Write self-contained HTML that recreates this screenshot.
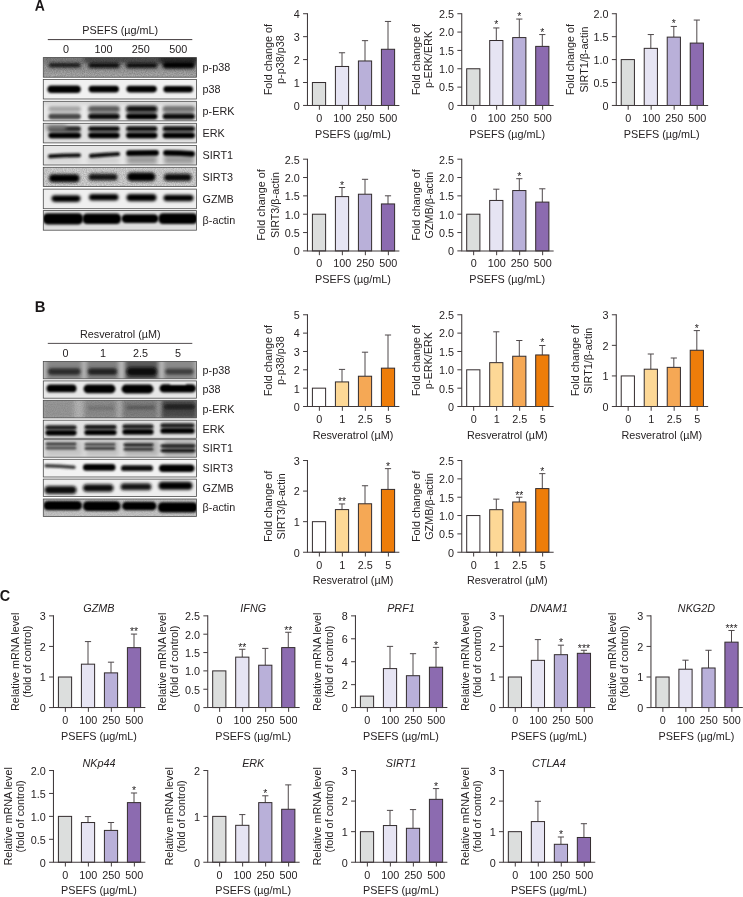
<!DOCTYPE html>
<html lang="en"><head><meta charset="utf-8"><title>Figure</title>
<style>
html,body{margin:0;padding:0;background:#fff;}
body{width:743px;height:897px;overflow:hidden;}
svg{display:block;font-family:"Liberation Sans",sans-serif;font-size:10.8px;fill:#262223;}
</style></head><body>
<svg width="743" height="897" viewBox="0 0 743 897">
<defs>
<filter id="b1" filterUnits="userSpaceOnUse" x="30" y="40" width="180" height="500"><feGaussianBlur stdDeviation="1.05"/></filter>
<filter id="b15" filterUnits="userSpaceOnUse" x="30" y="40" width="180" height="500"><feGaussianBlur stdDeviation="1.5"/></filter>
<filter id="b2" filterUnits="userSpaceOnUse" x="30" y="40" width="180" height="500"><feGaussianBlur stdDeviation="2.2"/></filter>
<filter id="noise" x="0" y="0" width="100%" height="100%"><feTurbulence type="fractalNoise" baseFrequency="0.9" numOctaves="2" seed="3"/><feColorMatrix type="matrix" values="0 0 0 0 0  0 0 0 0 0  0 0 0 0 0  1.6 0 0 0 -0.45"/></filter>
</defs>
<rect width="743" height="897" fill="#ffffff"/>
<text x="120.2" y="34.3" text-anchor="middle">PSEFS (µg/mL)</text>
<path d="M47.8 39.6H192.3" stroke="#403a3c" stroke-width="1"/>
<text x="65.9" y="52.7" text-anchor="middle">0</text>
<text x="103.6" y="52.7" text-anchor="middle">100</text>
<text x="140.8" y="52.7" text-anchor="middle">250</text>
<text x="178.2" y="52.7" text-anchor="middle">500</text>
<clipPath id="c1"><rect x="43.3" y="57.6" width="153.2" height="19.6"/></clipPath>
<g clip-path="url(#c1)"><rect x="43.3" y="57.6" width="153.2" height="19.6" fill="#9a9a9a"/>
<rect x="43" y="56" width="154.00" height="7.50" fill="#7c7c7c" filter="url(#b2)"/>
<rect x="84" y="55" width="113.00" height="8.00" fill="#4c4c4c" filter="url(#b2)"/>
<rect x="160" y="55" width="37.00" height="8.00" fill="#2c2c2c" filter="url(#b2)"/>
<rect x="43" y="73" width="154.00" height="7.00" fill="#adadad" filter="url(#b2)"/>
<rect x="48.5" y="63.00" width="32.30" height="4.4" rx="2.20" fill="#141414" filter="url(#b15)"/>
<rect x="88.4" y="62.70" width="31.20" height="5.4" rx="2.70" fill="#0a0a0a" filter="url(#b15)"/>
<rect x="126.2" y="62.70" width="31.10" height="5.4" rx="2.70" fill="#0a0a0a" filter="url(#b15)"/>
<rect x="162.8" y="61.90" width="32.00" height="6.6" rx="3.30" fill="#060606" filter="url(#b15)"/>
<rect x="43.3" y="57.6" width="153.2" height="19.6" filter="url(#noise)" opacity="0.22"/>
</g>
<rect x="43.3" y="57.6" width="153.2" height="19.6" fill="none" stroke="#4a4a4a" stroke-width="0.8"/>
<clipPath id="c2"><rect x="43.3" y="79.4" width="153.2" height="19.6"/></clipPath>
<g clip-path="url(#c2)"><rect x="43.3" y="79.4" width="153.2" height="19.6" fill="#f1f1f1"/>
<rect x="47.4" y="85.50" width="33.40" height="7.6" rx="3.80" fill="#030303" filter="url(#b1)"/>
<rect x="88.6" y="85.70" width="30.40" height="6.8" rx="3.40" fill="#030303" filter="url(#b1)"/>
<rect x="126.4" y="85.80" width="30.40" height="6.6" rx="3.30" fill="#030303" filter="url(#b1)"/>
<rect x="163.4" y="86.10" width="29.60" height="6.4" rx="3.20" fill="#030303" filter="url(#b1)"/>
</g>
<rect x="43.3" y="79.4" width="153.2" height="19.6" fill="none" stroke="#4a4a4a" stroke-width="0.8"/>
<clipPath id="c3"><rect x="43.3" y="101.3" width="153.2" height="19.6"/></clipPath>
<g clip-path="url(#c3)"><rect x="43.3" y="101.3" width="153.2" height="19.6" fill="#e9e9e9"/>
<rect x="43" y="100" width="154.00" height="4.00" fill="#cfcfcf" filter="url(#b2)"/>
<rect x="49.5" y="107" width="30.30" height="11.00" fill="#d2d2d2" filter="url(#b2)"/>
<rect x="89.4" y="107" width="29.20" height="11.00" fill="#a4a4a4" filter="url(#b2)"/>
<rect x="127.2" y="107" width="29.10" height="11.00" fill="#8a8a8a" filter="url(#b2)"/>
<rect x="163.8" y="107" width="30.00" height="11.00" fill="#a8a8a8" filter="url(#b2)"/>
<rect x="48.5" y="106.60" width="32.30" height="4.6" rx="2.30" fill="#a2a2a2" filter="url(#b15)"/>
<rect x="48.5" y="113.80" width="32.30" height="5.4" rx="2.70" fill="#4a4a4a" filter="url(#b1)"/>
<rect x="88.4" y="106.30" width="31.20" height="5.2" rx="2.60" fill="#565656" filter="url(#b15)"/>
<rect x="88.4" y="113.80" width="31.20" height="5.4" rx="2.70" fill="#070707" filter="url(#b1)"/>
<rect x="126.2" y="106.00" width="31.10" height="5.8" rx="2.90" fill="#0b0b0b" filter="url(#b15)"/>
<rect x="126.2" y="113.80" width="31.10" height="5.4" rx="2.70" fill="#050505" filter="url(#b1)"/>
<rect x="162.8" y="106.30" width="32.00" height="5.2" rx="2.60" fill="#707070" filter="url(#b15)"/>
<rect x="162.8" y="113.80" width="32.00" height="5.4" rx="2.70" fill="#0b0b0b" filter="url(#b1)"/>
</g>
<rect x="43.3" y="101.3" width="153.2" height="19.6" fill="none" stroke="#4a4a4a" stroke-width="0.8"/>
<clipPath id="c4"><rect x="43.3" y="123.3" width="153.2" height="19.6"/></clipPath>
<g clip-path="url(#c4)"><rect x="43.3" y="123.3" width="153.2" height="19.6" fill="#e2e2e2"/>
<rect x="49.5" y="127" width="30.30" height="10.00" fill="#8e8e8e" filter="url(#b2)"/>
<rect x="89.4" y="127" width="29.20" height="10.00" fill="#8e8e8e" filter="url(#b2)"/>
<rect x="127.2" y="127" width="29.10" height="10.00" fill="#8e8e8e" filter="url(#b2)"/>
<rect x="163.8" y="127" width="30.00" height="10.00" fill="#8e8e8e" filter="url(#b2)"/>
<rect x="48.5" y="126.50" width="32.30" height="4.4" rx="2.20" fill="#262626" filter="url(#b1)"/>
<rect x="48.5" y="132.70" width="32.30" height="5.6" rx="2.80" fill="#050505" filter="url(#b1)"/>
<rect x="88.4" y="126.50" width="31.20" height="4.4" rx="2.20" fill="#0e0e0e" filter="url(#b1)"/>
<rect x="88.4" y="132.70" width="31.20" height="5.6" rx="2.80" fill="#050505" filter="url(#b1)"/>
<rect x="126.2" y="126.50" width="31.10" height="4.4" rx="2.20" fill="#0b0b0b" filter="url(#b1)"/>
<rect x="126.2" y="132.70" width="31.10" height="5.6" rx="2.80" fill="#050505" filter="url(#b1)"/>
<rect x="162.8" y="126.50" width="32.00" height="4.4" rx="2.20" fill="#0b0b0b" filter="url(#b1)"/>
<rect x="162.8" y="132.70" width="32.00" height="5.6" rx="2.80" fill="#050505" filter="url(#b1)"/>
<rect x="46" y="125.0" width="20.00" height="5.00" fill="#808080" filter="url(#b2)"/>
</g>
<rect x="43.3" y="123.3" width="153.2" height="19.6" fill="none" stroke="#4a4a4a" stroke-width="0.8"/>
<clipPath id="c5"><rect x="43.3" y="145.4" width="153.2" height="19.6"/></clipPath>
<g clip-path="url(#c5)"><rect x="43.3" y="145.4" width="153.2" height="19.6" fill="#e6e6e6"/>
<rect x="127" y="155.5" width="30.00" height="8.50" fill="#9a9a9a" filter="url(#b2)"/>
<rect x="164" y="155.5" width="30.00" height="8.50" fill="#9a9a9a" filter="url(#b2)"/>
<rect x="88" y="158" width="31.00" height="5.00" fill="#cccccc" filter="url(#b2)"/>
<rect x="48" y="158" width="32.00" height="5.00" fill="#d6d6d6" filter="url(#b2)"/>
<path d="M50 156.3 L64 155.4 L79 155.3" stroke="#101010" stroke-width="4.0" stroke-linecap="round" fill="none" filter="url(#b1)"/>
<path d="M91 155.8 L104 154.8 L118 154.0" stroke="#0e0e0e" stroke-width="4.2" stroke-linecap="round" fill="none" filter="url(#b1)"/>
<path d="M129 153.2 L156 152.8" stroke="#060606" stroke-width="5.8" stroke-linecap="round" fill="none" filter="url(#b1)"/>
<path d="M166 152.8 L180 153.2 L192 153.8" stroke="#060606" stroke-width="5.8" stroke-linecap="round" fill="none" filter="url(#b1)"/>
</g>
<rect x="43.3" y="145.4" width="153.2" height="19.6" fill="none" stroke="#4a4a4a" stroke-width="0.8"/>
<clipPath id="c6"><rect x="43.3" y="167.3" width="153.2" height="19.2"/></clipPath>
<g clip-path="url(#c6)"><rect x="43.3" y="167.3" width="153.2" height="19.2" fill="#d2d2d2"/>
<rect x="49.0" y="174.20" width="30.50" height="8.0" rx="4.00" fill="#060606" filter="url(#b15)"/>
<rect x="88.5" y="173.80" width="29.00" height="6.8" rx="3.40" fill="#161616" filter="url(#b15)"/>
<rect x="127.0" y="172.40" width="28.50" height="8.8" rx="4.40" fill="#050505" filter="url(#b15)"/>
<rect x="164.0" y="173.80" width="27.50" height="7.2" rx="3.60" fill="#0b0b0b" filter="url(#b15)"/>
<rect x="43.3" y="167.3" width="153.2" height="19.2" filter="url(#noise)" opacity="0.2"/>
</g>
<rect x="43.3" y="167.3" width="153.2" height="19.2" fill="none" stroke="#4a4a4a" stroke-width="0.8"/>
<clipPath id="c7"><rect x="43.3" y="189.1" width="153.2" height="19.6"/></clipPath>
<g clip-path="url(#c7)"><rect x="43.3" y="189.1" width="153.2" height="19.6" fill="#efefef"/>
<rect x="51.5" y="195.30" width="29.00" height="6.6" rx="3.30" fill="#060606" filter="url(#b15)"/>
<rect x="89.0" y="194.10" width="29.50" height="6.4" rx="3.20" fill="#060606" filter="url(#b15)"/>
<rect x="126.5" y="194.00" width="30.00" height="7.2" rx="3.60" fill="#060606" filter="url(#b15)"/>
<rect x="163.5" y="194.70" width="30.00" height="6.6" rx="3.30" fill="#060606" filter="url(#b15)"/>
</g>
<rect x="43.3" y="189.1" width="153.2" height="19.6" fill="none" stroke="#4a4a4a" stroke-width="0.8"/>
<clipPath id="c8"><rect x="43.3" y="210.6" width="153.2" height="19.6"/></clipPath>
<g clip-path="url(#c8)"><rect x="43.3" y="210.6" width="153.2" height="19.6" fill="#dedede"/>
<rect x="43.0" y="213.20" width="40.00" height="11.2" rx="4.50" fill="#030303" filter="url(#b1)"/>
<rect x="82.5" y="213.50" width="38.50" height="10.6" rx="4.50" fill="#030303" filter="url(#b1)"/>
<rect x="121.5" y="214.20" width="37.00" height="8.8" rx="4.40" fill="#030303" filter="url(#b1)"/>
<rect x="158.5" y="213.20" width="39.00" height="10.8" rx="4.50" fill="#030303" filter="url(#b1)"/>
</g>
<rect x="43.3" y="210.6" width="153.2" height="19.6" fill="none" stroke="#4a4a4a" stroke-width="0.8"/>
<text x="202.6" y="71.2">p-p38</text>
<text x="202.6" y="93.0">p38</text>
<text x="202.6" y="114.9">p-ERK</text>
<text x="202.6" y="136.9">ERK</text>
<text x="202.6" y="159.0">SIRT1</text>
<text x="202.6" y="180.9">SIRT3</text>
<text x="202.6" y="202.7">GZMB</text>
<text x="202.6" y="224.2">β-actin</text>
<text x="120.3" y="338.2" text-anchor="middle">Resveratrol (µM)</text>
<path d="M47.8 343.4H192.3" stroke="#403a3c" stroke-width="0.9"/>
<text x="65.5" y="356.8" text-anchor="middle">0</text>
<text x="103.1" y="356.8" text-anchor="middle">1</text>
<text x="140.5" y="356.8" text-anchor="middle">2.5</text>
<text x="178.0" y="356.8" text-anchor="middle">5</text>
<clipPath id="c9"><rect x="43.3" y="361.5" width="153.2" height="17.3"/></clipPath>
<g clip-path="url(#c9)"><rect x="43.3" y="361.5" width="153.2" height="17.3" fill="#bdbdbd"/>
<rect x="46.5" y="358" width="35.50" height="24.00" fill="#868686" filter="url(#b2)"/>
<rect x="48.0" y="368.20" width="32.50" height="6.8" rx="3.40" fill="#2a2a2a" filter="url(#b15)"/>
<rect x="86.3" y="358" width="32.30" height="24.00" fill="#808080" filter="url(#b2)"/>
<rect x="87.8" y="368.20" width="29.30" height="6.8" rx="3.40" fill="#242424" filter="url(#b15)"/>
<rect x="125.0" y="358" width="33.40" height="24.00" fill="#5a5a5a" filter="url(#b2)"/>
<rect x="126.5" y="367.30" width="30.40" height="8.6" rx="4.30" fill="#0b0b0b" filter="url(#b15)"/>
<rect x="163.8" y="358" width="31.20" height="24.00" fill="#8a8a8a" filter="url(#b2)"/>
<rect x="165.3" y="368.70" width="28.20" height="5.8" rx="2.90" fill="#3a3a3a" filter="url(#b15)"/>
</g>
<rect x="43.3" y="361.5" width="153.2" height="17.3" fill="none" stroke="#4a4a4a" stroke-width="0.8"/>
<clipPath id="c10"><rect x="43.3" y="380.9" width="153.2" height="17.3"/></clipPath>
<g clip-path="url(#c10)"><rect x="43.3" y="380.9" width="153.2" height="17.3" fill="#e8e8e8"/>
<rect x="46.5" y="384.50" width="30.00" height="7.8" rx="3.90" fill="#040404" filter="url(#b1)"/>
<rect x="83.5" y="384.40" width="32.00" height="8.8" rx="4.40" fill="#040404" filter="url(#b1)"/>
<rect x="121.5" y="384.60" width="32.00" height="8.8" rx="4.40" fill="#040404" filter="url(#b1)"/>
<rect x="159.5" y="384.20" width="36.50" height="8.4" rx="4.20" fill="#040404" filter="url(#b1)"/>
<rect x="170" y="380" width="16.00" height="4.50" fill="#e8e8e8" filter="url(#b1)"/>
</g>
<rect x="43.3" y="380.9" width="153.2" height="17.3" fill="none" stroke="#4a4a4a" stroke-width="0.8"/>
<clipPath id="c11"><rect x="43.3" y="400.3" width="153.2" height="17.6"/></clipPath>
<g clip-path="url(#c11)"><rect x="43.3" y="400.3" width="153.2" height="17.6" fill="#b3b3b3"/>
<rect x="43" y="399" width="31.00" height="20.00" fill="#979797" filter="url(#b2)"/>
<rect x="84" y="399" width="33.00" height="20.00" fill="#8b8b8b" filter="url(#b2)"/>
<rect x="122" y="399" width="36.00" height="20.00" fill="#7e7e7e" filter="url(#b2)"/>
<rect x="161" y="399" width="36.00" height="20.00" fill="#4c4c4c" filter="url(#b2)"/>
<rect x="164" y="404.60" width="31.00" height="4.6" rx="2.30" fill="#1a1a1a" filter="url(#b15)"/>
<rect x="126" y="405.80" width="29.00" height="3.4" rx="1.70" fill="#585858" filter="url(#b15)"/>
<rect x="88" y="406.50" width="26.00" height="3.0" rx="1.50" fill="#707070" filter="url(#b15)"/>
<rect x="43.3" y="400.3" width="153.2" height="17.6" filter="url(#noise)" opacity="0.1"/>
</g>
<rect x="43.3" y="400.3" width="153.2" height="17.6" fill="none" stroke="#4a4a4a" stroke-width="0.8"/>
<clipPath id="c12"><rect x="43.3" y="420.2" width="153.2" height="18.1"/></clipPath>
<g clip-path="url(#c12)"><rect x="43.3" y="420.2" width="153.2" height="18.1" fill="#e4e4e4"/>
<rect x="46.5" y="426.3" width="29.00" height="8.00" fill="#8c8c8c" filter="url(#b2)"/>
<rect x="85.5" y="426" width="30.00" height="8.00" fill="#8c8c8c" filter="url(#b2)"/>
<rect x="123.5" y="425.4" width="29.00" height="8.00" fill="#8c8c8c" filter="url(#b2)"/>
<rect x="161.5" y="424.4" width="32.00" height="8.00" fill="#8c8c8c" filter="url(#b2)"/>
<rect x="45.5" y="425.40" width="31.00" height="3.8" rx="1.90" fill="#141414" filter="url(#b1)"/>
<rect x="45.5" y="430.20" width="31.00" height="5.2" rx="2.60" fill="#040404" filter="url(#b1)"/>
<rect x="84.5" y="425.10" width="32.00" height="3.8" rx="1.90" fill="#141414" filter="url(#b1)"/>
<rect x="84.5" y="429.90" width="32.00" height="5.2" rx="2.60" fill="#040404" filter="url(#b1)"/>
<rect x="122.5" y="424.50" width="31.00" height="3.8" rx="1.90" fill="#141414" filter="url(#b1)"/>
<rect x="122.5" y="429.30" width="31.00" height="5.2" rx="2.60" fill="#040404" filter="url(#b1)"/>
<rect x="160.5" y="423.50" width="34.00" height="3.8" rx="1.90" fill="#141414" filter="url(#b1)"/>
<rect x="160.5" y="428.30" width="34.00" height="5.2" rx="2.60" fill="#040404" filter="url(#b1)"/>
</g>
<rect x="43.3" y="420.2" width="153.2" height="18.1" fill="none" stroke="#4a4a4a" stroke-width="0.8"/>
<clipPath id="c13"><rect x="43.3" y="439.7" width="153.2" height="17.5"/></clipPath>
<g clip-path="url(#c13)"><rect x="43.3" y="439.7" width="153.2" height="17.5" fill="#dcdcdc"/>
<rect x="46.5" y="441" width="35.50" height="15.00" fill="#c4c4c4" filter="url(#b2)"/>
<rect x="86.3" y="441" width="32.30" height="15.00" fill="#c0c0c0" filter="url(#b2)"/>
<rect x="125.0" y="441" width="33.40" height="15.00" fill="#b4b4b4" filter="url(#b2)"/>
<rect x="163.8" y="441" width="31.20" height="15.00" fill="#a2a2a2" filter="url(#b2)"/>
<rect x="45.5" y="442.60" width="31.00" height="2.8" rx="1.40" fill="#383838" filter="url(#b1)"/>
<rect x="45.5" y="446.40" width="31.00" height="3.2" rx="1.60" fill="#484848" filter="url(#b1)"/>
<rect x="84.5" y="442.90" width="31.00" height="2.8" rx="1.40" fill="#444444" filter="url(#b1)"/>
<rect x="84.5" y="446.80" width="31.00" height="3.2" rx="1.60" fill="#3c3c3c" filter="url(#b1)"/>
<rect x="123.5" y="443.40" width="30.00" height="2.8" rx="1.40" fill="#101010" filter="url(#b1)"/>
<rect x="123.5" y="447.60" width="30.00" height="3.2" rx="1.60" fill="#363636" filter="url(#b1)"/>
<rect x="160.5" y="444.60" width="35.00" height="2.8" rx="1.40" fill="#0c0c0c" filter="url(#b1)"/>
<rect x="160.5" y="449.00" width="35.00" height="3.2" rx="1.60" fill="#0e0e0e" filter="url(#b1)"/>
</g>
<rect x="43.3" y="439.7" width="153.2" height="17.5" fill="none" stroke="#4a4a4a" stroke-width="0.8"/>
<clipPath id="c14"><rect x="43.3" y="459.3" width="153.2" height="17.7"/></clipPath>
<g clip-path="url(#c14)"><rect x="43.3" y="459.3" width="153.2" height="17.7" fill="#f2f2f2"/>
<path d="M46 465.8 L60 466.3 L74 467.2" stroke="#3a3a3a" stroke-width="3.4" stroke-linecap="round" fill="none" filter="url(#b1)"/>
<rect x="83.0" y="464.10" width="32.50" height="6.6" rx="3.30" fill="#050505" filter="url(#b1)"/>
<rect x="121.0" y="465.30" width="32.00" height="5.8" rx="2.90" fill="#080808" filter="url(#b1)"/>
<rect x="159.0" y="464.40" width="35.50" height="7.6" rx="3.80" fill="#040404" filter="url(#b1)"/>
</g>
<rect x="43.3" y="459.3" width="153.2" height="17.7" fill="none" stroke="#4a4a4a" stroke-width="0.8"/>
<clipPath id="c15"><rect x="43.3" y="479.1" width="153.2" height="17.3"/></clipPath>
<g clip-path="url(#c15)"><rect x="43.3" y="479.1" width="153.2" height="17.3" fill="#eeeeee"/>
<rect x="44.5" y="486.00" width="32.00" height="8.0" rx="4.00" fill="#0b0b0b" filter="url(#b15)"/>
<rect x="83.0" y="484.30" width="30.50" height="7.4" rx="3.70" fill="#0b0b0b" filter="url(#b15)"/>
<rect x="120.5" y="483.30" width="31.00" height="7.0" rx="3.50" fill="#181818" filter="url(#b15)"/>
<rect x="158.5" y="481.80" width="34.00" height="8.0" rx="4.00" fill="#050505" filter="url(#b15)"/>
</g>
<rect x="43.3" y="479.1" width="153.2" height="17.3" fill="none" stroke="#4a4a4a" stroke-width="0.8"/>
<clipPath id="c16"><rect x="43.3" y="499.0" width="153.2" height="17.5"/></clipPath>
<g clip-path="url(#c16)"><rect x="43.3" y="499.0" width="153.2" height="17.5" fill="#c4c4c4"/>
<rect x="43.5" y="500.90" width="38.50" height="9.4" rx="4.50" fill="#040404" filter="url(#b1)"/>
<rect x="83" y="501.30" width="37.50" height="9.8" rx="4.50" fill="#040404" filter="url(#b1)"/>
<rect x="122" y="501.70" width="34.50" height="8.6" rx="4.30" fill="#040404" filter="url(#b1)"/>
<rect x="158" y="502.30" width="39.50" height="10.2" rx="4.50" fill="#040404" filter="url(#b1)"/>
<rect x="43.3" y="499.0" width="153.2" height="17.5" filter="url(#noise)" opacity="0.1"/>
</g>
<rect x="43.3" y="499.0" width="153.2" height="17.5" fill="none" stroke="#4a4a4a" stroke-width="0.8"/>
<text x="202.6" y="373.9">p-p38</text>
<text x="202.6" y="393.3">p38</text>
<text x="202.6" y="412.7">p-ERK</text>
<text x="202.6" y="432.6">ERK</text>
<text x="202.6" y="452.1">SIRT1</text>
<text x="202.6" y="471.7">SIRT3</text>
<text x="202.6" y="491.5">GZMB</text>
<text x="202.6" y="511.4">β-actin</text>
<text transform="translate(34.8 10.7) rotate(0.03) scale(0.9 1)" font-size="15.5" font-weight="bold" fill="#1a1617">A</text>
<text transform="translate(34.7 312.0) rotate(0.03) scale(0.96 1)" font-size="15.5" font-weight="bold" fill="#1a1617">B</text>
<text transform="translate(-0.3 600.85) rotate(0.03) scale(0.93 1)" font-size="15.5" font-weight="bold" fill="#1a1617">C</text>
<rect x="312.41" y="82.52" width="13.2" height="22.93" fill="#dcdedd" stroke="#322b2d" stroke-width="1"/>
<path d="M319.36 105.45v4.3" stroke="#403a3c" stroke-width="1"/>
<text x="319.36" y="121.75" text-anchor="middle">0</text>
<path d="M342.01 66.47V52.75M338.91 52.75H345.11" stroke="#4e484a" stroke-width="1" fill="none"/>
<rect x="335.41" y="66.47" width="13.2" height="38.98" fill="#e6e4f3" stroke="#322b2d" stroke-width="1"/>
<path d="M342.36 105.45v4.3" stroke="#403a3c" stroke-width="1"/>
<text x="342.36" y="121.75" text-anchor="middle">100</text>
<path d="M365.01 60.97V40.65M361.91 40.65H368.11" stroke="#4e484a" stroke-width="1" fill="none"/>
<rect x="358.41" y="60.97" width="13.2" height="44.48" fill="#b9b0d9" stroke="#322b2d" stroke-width="1"/>
<path d="M365.36 105.45v4.3" stroke="#403a3c" stroke-width="1"/>
<text x="365.36" y="121.75" text-anchor="middle">250</text>
<path d="M388.01 49.27V21.45M384.91 21.45H391.11" stroke="#4e484a" stroke-width="1" fill="none"/>
<rect x="381.41" y="49.27" width="13.2" height="56.18" fill="#8c6bb0" stroke="#322b2d" stroke-width="1"/>
<path d="M388.36 105.45v4.3" stroke="#403a3c" stroke-width="1"/>
<text x="388.36" y="121.75" text-anchor="middle">500</text>
<path d="M307.46 13.23V105.45H399.36" stroke="#403a3c" stroke-width="1.05" fill="none"/>
<path d="M303.06 105.45H307.46" stroke="#403a3c" stroke-width="1"/>
<text x="299.76" y="109.80" text-anchor="end">0</text>
<path d="M303.06 82.52H307.46" stroke="#403a3c" stroke-width="1"/>
<text x="299.76" y="86.87" text-anchor="end">1</text>
<path d="M303.06 59.59H307.46" stroke="#403a3c" stroke-width="1"/>
<text x="299.76" y="63.94" text-anchor="end">2</text>
<path d="M303.06 36.66H307.46" stroke="#403a3c" stroke-width="1"/>
<text x="299.76" y="41.01" text-anchor="end">3</text>
<path d="M303.06 13.73H307.46" stroke="#403a3c" stroke-width="1"/>
<text x="299.76" y="18.08" text-anchor="end">4</text>
<text x="352.96" y="137.65" text-anchor="middle">PSEFS (µg/mL)</text>
<text transform="translate(271.91 59.59) rotate(-90)" text-anchor="middle">Fold change of</text>
<text transform="translate(284.41 59.59) rotate(-90)" text-anchor="middle">p-p38/p38</text>
<rect x="466.70" y="68.76" width="13.2" height="36.69" fill="#dcdedd" stroke="#322b2d" stroke-width="1"/>
<path d="M473.65 105.45v4.3" stroke="#403a3c" stroke-width="1"/>
<text x="473.65" y="121.75" text-anchor="middle">0</text>
<path d="M496.30 40.51V27.95M493.20 27.95H499.40" stroke="#4e484a" stroke-width="1" fill="none"/>
<rect x="489.70" y="40.51" width="13.2" height="64.94" fill="#e6e4f3" stroke="#322b2d" stroke-width="1"/>
<path d="M496.65 105.45v4.3" stroke="#403a3c" stroke-width="1"/>
<text x="496.65" y="121.75" text-anchor="middle">100</text>
<path d="M519.30 37.58V19.05M516.20 19.05H522.40" stroke="#4e484a" stroke-width="1" fill="none"/>
<rect x="512.70" y="37.58" width="13.2" height="67.87" fill="#b9b0d9" stroke="#322b2d" stroke-width="1"/>
<path d="M519.65 105.45v4.3" stroke="#403a3c" stroke-width="1"/>
<text x="519.65" y="121.75" text-anchor="middle">250</text>
<path d="M542.30 46.38V34.55M539.20 34.55H545.40" stroke="#4e484a" stroke-width="1" fill="none"/>
<rect x="535.70" y="46.38" width="13.2" height="59.07" fill="#8c6bb0" stroke="#322b2d" stroke-width="1"/>
<path d="M542.65 105.45v4.3" stroke="#403a3c" stroke-width="1"/>
<text x="542.65" y="121.75" text-anchor="middle">500</text>
<text x="496.30" y="28.25" text-anchor="middle" font-size="10.4" letter-spacing="0">*</text>
<text x="519.30" y="20.15" text-anchor="middle" font-size="10.4" letter-spacing="0">*</text>
<text x="542.30" y="35.95" text-anchor="middle" font-size="10.4" letter-spacing="0">*</text>
<path d="M461.75 13.23V105.45H553.65" stroke="#403a3c" stroke-width="1.05" fill="none"/>
<path d="M457.35 105.45H461.75" stroke="#403a3c" stroke-width="1"/>
<text x="454.05" y="109.80" text-anchor="end">0</text>
<path d="M457.35 87.11H461.75" stroke="#403a3c" stroke-width="1"/>
<text x="454.05" y="91.46" text-anchor="end">0.5</text>
<path d="M457.35 68.76H461.75" stroke="#403a3c" stroke-width="1"/>
<text x="454.05" y="73.11" text-anchor="end">1.0</text>
<path d="M457.35 50.42H461.75" stroke="#403a3c" stroke-width="1"/>
<text x="454.05" y="54.77" text-anchor="end">1.5</text>
<path d="M457.35 32.07H461.75" stroke="#403a3c" stroke-width="1"/>
<text x="454.05" y="36.42" text-anchor="end">2.0</text>
<path d="M457.35 13.73H461.75" stroke="#403a3c" stroke-width="1"/>
<text x="454.05" y="18.08" text-anchor="end">2.5</text>
<text x="507.25" y="137.65" text-anchor="middle">PSEFS (µg/mL)</text>
<text transform="translate(419.80 59.59) rotate(-90)" text-anchor="middle">Fold change of</text>
<text transform="translate(432.30 59.59) rotate(-90)" text-anchor="middle">p-ERK/ERK</text>
<rect x="621.22" y="59.59" width="13.2" height="45.86" fill="#dcdedd" stroke="#322b2d" stroke-width="1"/>
<path d="M628.17 105.45v4.3" stroke="#403a3c" stroke-width="1"/>
<text x="628.17" y="121.75" text-anchor="middle">0</text>
<path d="M650.82 48.35V34.55M647.72 34.55H653.92" stroke="#4e484a" stroke-width="1" fill="none"/>
<rect x="644.22" y="48.35" width="13.2" height="57.10" fill="#e6e4f3" stroke="#322b2d" stroke-width="1"/>
<path d="M651.17 105.45v4.3" stroke="#403a3c" stroke-width="1"/>
<text x="651.17" y="121.75" text-anchor="middle">100</text>
<path d="M673.82 37.12V26.45M670.72 26.45H676.92" stroke="#4e484a" stroke-width="1" fill="none"/>
<rect x="667.22" y="37.12" width="13.2" height="68.33" fill="#b9b0d9" stroke="#322b2d" stroke-width="1"/>
<path d="M674.17 105.45v4.3" stroke="#403a3c" stroke-width="1"/>
<text x="674.17" y="121.75" text-anchor="middle">250</text>
<path d="M696.82 43.08V20.05M693.72 20.05H699.92" stroke="#4e484a" stroke-width="1" fill="none"/>
<rect x="690.22" y="43.08" width="13.2" height="62.37" fill="#8c6bb0" stroke="#322b2d" stroke-width="1"/>
<path d="M697.17 105.45v4.3" stroke="#403a3c" stroke-width="1"/>
<text x="697.17" y="121.75" text-anchor="middle">500</text>
<text x="673.82" y="27.25" text-anchor="middle" font-size="10.4" letter-spacing="0">*</text>
<path d="M616.27 13.23V105.45H708.17" stroke="#403a3c" stroke-width="1.05" fill="none"/>
<path d="M611.87 105.45H616.27" stroke="#403a3c" stroke-width="1"/>
<text x="608.57" y="109.80" text-anchor="end">0</text>
<path d="M611.87 82.52H616.27" stroke="#403a3c" stroke-width="1"/>
<text x="608.57" y="86.87" text-anchor="end">0.5</text>
<path d="M611.87 59.59H616.27" stroke="#403a3c" stroke-width="1"/>
<text x="608.57" y="63.94" text-anchor="end">1.0</text>
<path d="M611.87 36.66H616.27" stroke="#403a3c" stroke-width="1"/>
<text x="608.57" y="41.01" text-anchor="end">1.5</text>
<path d="M611.87 13.73H616.27" stroke="#403a3c" stroke-width="1"/>
<text x="608.57" y="18.08" text-anchor="end">2.0</text>
<text x="661.77" y="137.65" text-anchor="middle">PSEFS (µg/mL)</text>
<text transform="translate(574.22 59.59) rotate(-90)" text-anchor="middle">Fold change of</text>
<text transform="translate(587.97 59.59) rotate(-90)" text-anchor="middle">SIRT1/β-actin</text>
<rect x="312.41" y="214.21" width="13.2" height="36.69" fill="#dcdedd" stroke="#322b2d" stroke-width="1"/>
<path d="M319.36 250.90v4.3" stroke="#403a3c" stroke-width="1"/>
<text x="319.36" y="267.20" text-anchor="middle">0</text>
<path d="M342.01 196.60V187.50M338.91 187.50H345.11" stroke="#4e484a" stroke-width="1" fill="none"/>
<rect x="335.41" y="196.60" width="13.2" height="54.30" fill="#e6e4f3" stroke="#322b2d" stroke-width="1"/>
<path d="M342.36 250.90v4.3" stroke="#403a3c" stroke-width="1"/>
<text x="342.36" y="267.20" text-anchor="middle">100</text>
<path d="M365.01 194.22V179.30M361.91 179.30H368.11" stroke="#4e484a" stroke-width="1" fill="none"/>
<rect x="358.41" y="194.22" width="13.2" height="56.68" fill="#b9b0d9" stroke="#322b2d" stroke-width="1"/>
<path d="M365.36 250.90v4.3" stroke="#403a3c" stroke-width="1"/>
<text x="365.36" y="267.20" text-anchor="middle">250</text>
<path d="M388.01 203.94V195.80M384.91 195.80H391.11" stroke="#4e484a" stroke-width="1" fill="none"/>
<rect x="381.41" y="203.94" width="13.2" height="46.96" fill="#8c6bb0" stroke="#322b2d" stroke-width="1"/>
<path d="M388.36 250.90v4.3" stroke="#403a3c" stroke-width="1"/>
<text x="388.36" y="267.20" text-anchor="middle">500</text>
<text x="342.01" y="188.50" text-anchor="middle" font-size="10.4" letter-spacing="0">*</text>
<path d="M307.46 158.68V250.90H399.36" stroke="#403a3c" stroke-width="1.05" fill="none"/>
<path d="M303.06 250.90H307.46" stroke="#403a3c" stroke-width="1"/>
<text x="299.76" y="255.25" text-anchor="end">0</text>
<path d="M303.06 232.56H307.46" stroke="#403a3c" stroke-width="1"/>
<text x="299.76" y="236.91" text-anchor="end">0.5</text>
<path d="M303.06 214.21H307.46" stroke="#403a3c" stroke-width="1"/>
<text x="299.76" y="218.56" text-anchor="end">1.0</text>
<path d="M303.06 195.87H307.46" stroke="#403a3c" stroke-width="1"/>
<text x="299.76" y="200.22" text-anchor="end">1.5</text>
<path d="M303.06 177.52H307.46" stroke="#403a3c" stroke-width="1"/>
<text x="299.76" y="181.87" text-anchor="end">2.0</text>
<path d="M303.06 159.18H307.46" stroke="#403a3c" stroke-width="1"/>
<text x="299.76" y="163.53" text-anchor="end">2.5</text>
<text x="352.96" y="283.10" text-anchor="middle">PSEFS (µg/mL)</text>
<text transform="translate(265.41 205.04) rotate(-90)" text-anchor="middle">Fold change of</text>
<text transform="translate(279.16 205.04) rotate(-90)" text-anchor="middle">SIRT3/β-actin</text>
<rect x="466.70" y="214.21" width="13.2" height="36.69" fill="#dcdedd" stroke="#322b2d" stroke-width="1"/>
<path d="M473.65 250.90v4.3" stroke="#403a3c" stroke-width="1"/>
<text x="473.65" y="267.20" text-anchor="middle">0</text>
<path d="M496.30 200.45V189.20M493.20 189.20H499.40" stroke="#4e484a" stroke-width="1" fill="none"/>
<rect x="489.70" y="200.45" width="13.2" height="50.45" fill="#e6e4f3" stroke="#322b2d" stroke-width="1"/>
<path d="M496.65 250.90v4.3" stroke="#403a3c" stroke-width="1"/>
<text x="496.65" y="267.20" text-anchor="middle">100</text>
<path d="M519.30 190.55V178.70M516.20 178.70H522.40" stroke="#4e484a" stroke-width="1" fill="none"/>
<rect x="512.70" y="190.55" width="13.2" height="60.35" fill="#b9b0d9" stroke="#322b2d" stroke-width="1"/>
<path d="M519.65 250.90v4.3" stroke="#403a3c" stroke-width="1"/>
<text x="519.65" y="267.20" text-anchor="middle">250</text>
<path d="M542.30 202.10V188.80M539.20 188.80H545.40" stroke="#4e484a" stroke-width="1" fill="none"/>
<rect x="535.70" y="202.10" width="13.2" height="48.80" fill="#8c6bb0" stroke="#322b2d" stroke-width="1"/>
<path d="M542.65 250.90v4.3" stroke="#403a3c" stroke-width="1"/>
<text x="542.65" y="267.20" text-anchor="middle">500</text>
<text x="519.30" y="180.00" text-anchor="middle" font-size="10.4" letter-spacing="0">*</text>
<path d="M461.75 158.68V250.90H553.65" stroke="#403a3c" stroke-width="1.05" fill="none"/>
<path d="M457.35 250.90H461.75" stroke="#403a3c" stroke-width="1"/>
<text x="454.05" y="255.25" text-anchor="end">0</text>
<path d="M457.35 232.56H461.75" stroke="#403a3c" stroke-width="1"/>
<text x="454.05" y="236.91" text-anchor="end">0.5</text>
<path d="M457.35 214.21H461.75" stroke="#403a3c" stroke-width="1"/>
<text x="454.05" y="218.56" text-anchor="end">1.0</text>
<path d="M457.35 195.87H461.75" stroke="#403a3c" stroke-width="1"/>
<text x="454.05" y="200.22" text-anchor="end">1.5</text>
<path d="M457.35 177.52H461.75" stroke="#403a3c" stroke-width="1"/>
<text x="454.05" y="181.87" text-anchor="end">2.0</text>
<path d="M457.35 159.18H461.75" stroke="#403a3c" stroke-width="1"/>
<text x="454.05" y="163.53" text-anchor="end">2.5</text>
<text x="507.25" y="283.10" text-anchor="middle">PSEFS (µg/mL)</text>
<text transform="translate(419.70 205.04) rotate(-90)" text-anchor="middle">Fold change of</text>
<text transform="translate(433.45 205.04) rotate(-90)" text-anchor="middle">GZMB/β-actin</text>
<rect x="312.41" y="388.16" width="13.2" height="18.34" fill="#ffffff" stroke="#322b2d" stroke-width="1"/>
<path d="M319.36 406.50v4.3" stroke="#403a3c" stroke-width="1"/>
<text x="319.36" y="422.80" text-anchor="middle">0</text>
<path d="M342.01 381.92V369.40M338.91 369.40H345.11" stroke="#4e484a" stroke-width="1" fill="none"/>
<rect x="335.41" y="381.92" width="13.2" height="24.58" fill="#fdd896" stroke="#322b2d" stroke-width="1"/>
<path d="M342.36 406.50v4.3" stroke="#403a3c" stroke-width="1"/>
<text x="342.36" y="422.80" text-anchor="middle">1</text>
<path d="M365.01 376.23V352.20M361.91 352.20H368.11" stroke="#4e484a" stroke-width="1" fill="none"/>
<rect x="358.41" y="376.23" width="13.2" height="30.27" fill="#f5a855" stroke="#322b2d" stroke-width="1"/>
<path d="M365.36 406.50v4.3" stroke="#403a3c" stroke-width="1"/>
<text x="365.36" y="422.80" text-anchor="middle">2.5</text>
<path d="M388.01 368.16V335.00M384.91 335.00H391.11" stroke="#4e484a" stroke-width="1" fill="none"/>
<rect x="381.41" y="368.16" width="13.2" height="38.34" fill="#ee7d0a" stroke="#322b2d" stroke-width="1"/>
<path d="M388.36 406.50v4.3" stroke="#403a3c" stroke-width="1"/>
<text x="388.36" y="422.80" text-anchor="middle">5</text>
<path d="M307.46 314.28V406.50H399.36" stroke="#403a3c" stroke-width="1.05" fill="none"/>
<path d="M303.06 406.50H307.46" stroke="#403a3c" stroke-width="1"/>
<text x="299.76" y="410.85" text-anchor="end">0</text>
<path d="M303.06 388.16H307.46" stroke="#403a3c" stroke-width="1"/>
<text x="299.76" y="392.51" text-anchor="end">1</text>
<path d="M303.06 369.81H307.46" stroke="#403a3c" stroke-width="1"/>
<text x="299.76" y="374.16" text-anchor="end">2</text>
<path d="M303.06 351.47H307.46" stroke="#403a3c" stroke-width="1"/>
<text x="299.76" y="355.82" text-anchor="end">3</text>
<path d="M303.06 333.12H307.46" stroke="#403a3c" stroke-width="1"/>
<text x="299.76" y="337.47" text-anchor="end">4</text>
<path d="M303.06 314.78H307.46" stroke="#403a3c" stroke-width="1"/>
<text x="299.76" y="319.13" text-anchor="end">5</text>
<text x="352.96" y="438.70" text-anchor="middle">Resveratrol (µM)</text>
<text transform="translate(271.91 360.64) rotate(-90)" text-anchor="middle">Fold change of</text>
<text transform="translate(284.41 360.64) rotate(-90)" text-anchor="middle">p-p38/p38</text>
<rect x="466.70" y="369.81" width="13.2" height="36.69" fill="#ffffff" stroke="#322b2d" stroke-width="1"/>
<path d="M473.65 406.50v4.3" stroke="#403a3c" stroke-width="1"/>
<text x="473.65" y="422.80" text-anchor="middle">0</text>
<path d="M496.30 362.66V331.80M493.20 331.80H499.40" stroke="#4e484a" stroke-width="1" fill="none"/>
<rect x="489.70" y="362.66" width="13.2" height="43.84" fill="#fdd896" stroke="#322b2d" stroke-width="1"/>
<path d="M496.65 406.50v4.3" stroke="#403a3c" stroke-width="1"/>
<text x="496.65" y="422.80" text-anchor="middle">1</text>
<path d="M519.30 356.24V340.50M516.20 340.50H522.40" stroke="#4e484a" stroke-width="1" fill="none"/>
<rect x="512.70" y="356.24" width="13.2" height="50.26" fill="#f5a855" stroke="#322b2d" stroke-width="1"/>
<path d="M519.65 406.50v4.3" stroke="#403a3c" stroke-width="1"/>
<text x="519.65" y="422.80" text-anchor="middle">2.5</text>
<path d="M542.30 354.95V345.50M539.20 345.50H545.40" stroke="#4e484a" stroke-width="1" fill="none"/>
<rect x="535.70" y="354.95" width="13.2" height="51.55" fill="#ee7d0a" stroke="#322b2d" stroke-width="1"/>
<path d="M542.65 406.50v4.3" stroke="#403a3c" stroke-width="1"/>
<text x="542.65" y="422.80" text-anchor="middle">5</text>
<text x="542.30" y="346.10" text-anchor="middle" font-size="10.4" letter-spacing="0">*</text>
<path d="M461.75 314.28V406.50H553.65" stroke="#403a3c" stroke-width="1.05" fill="none"/>
<path d="M457.35 406.50H461.75" stroke="#403a3c" stroke-width="1"/>
<text x="454.05" y="410.85" text-anchor="end">0</text>
<path d="M457.35 388.16H461.75" stroke="#403a3c" stroke-width="1"/>
<text x="454.05" y="392.51" text-anchor="end">0.5</text>
<path d="M457.35 369.81H461.75" stroke="#403a3c" stroke-width="1"/>
<text x="454.05" y="374.16" text-anchor="end">1.0</text>
<path d="M457.35 351.47H461.75" stroke="#403a3c" stroke-width="1"/>
<text x="454.05" y="355.82" text-anchor="end">1.5</text>
<path d="M457.35 333.12H461.75" stroke="#403a3c" stroke-width="1"/>
<text x="454.05" y="337.47" text-anchor="end">2.0</text>
<path d="M457.35 314.78H461.75" stroke="#403a3c" stroke-width="1"/>
<text x="454.05" y="319.13" text-anchor="end">2.5</text>
<text x="507.25" y="438.70" text-anchor="middle">Resveratrol (µM)</text>
<text transform="translate(419.80 360.64) rotate(-90)" text-anchor="middle">Fold change of</text>
<text transform="translate(432.30 360.64) rotate(-90)" text-anchor="middle">p-ERK/ERK</text>
<rect x="621.22" y="375.93" width="13.2" height="30.57" fill="#ffffff" stroke="#322b2d" stroke-width="1"/>
<path d="M628.17 406.50v4.3" stroke="#403a3c" stroke-width="1"/>
<text x="628.17" y="422.80" text-anchor="middle">0</text>
<path d="M650.82 369.20V354.00M647.72 354.00H653.92" stroke="#4e484a" stroke-width="1" fill="none"/>
<rect x="644.22" y="369.20" width="13.2" height="37.30" fill="#fdd896" stroke="#322b2d" stroke-width="1"/>
<path d="M651.17 406.50v4.3" stroke="#403a3c" stroke-width="1"/>
<text x="651.17" y="422.80" text-anchor="middle">1</text>
<path d="M673.82 367.37V358.00M670.72 358.00H676.92" stroke="#4e484a" stroke-width="1" fill="none"/>
<rect x="667.22" y="367.37" width="13.2" height="39.13" fill="#f5a855" stroke="#322b2d" stroke-width="1"/>
<path d="M674.17 406.50v4.3" stroke="#403a3c" stroke-width="1"/>
<text x="674.17" y="422.80" text-anchor="middle">2.5</text>
<path d="M696.82 350.25V330.60M693.72 330.60H699.92" stroke="#4e484a" stroke-width="1" fill="none"/>
<rect x="690.22" y="350.25" width="13.2" height="56.25" fill="#ee7d0a" stroke="#322b2d" stroke-width="1"/>
<path d="M697.17 406.50v4.3" stroke="#403a3c" stroke-width="1"/>
<text x="697.17" y="422.80" text-anchor="middle">5</text>
<text x="696.82" y="331.50" text-anchor="middle" font-size="10.4" letter-spacing="0">*</text>
<path d="M616.27 314.28V406.50H708.17" stroke="#403a3c" stroke-width="1.05" fill="none"/>
<path d="M611.87 406.50H616.27" stroke="#403a3c" stroke-width="1"/>
<text x="608.57" y="410.85" text-anchor="end">0</text>
<path d="M611.87 375.93H616.27" stroke="#403a3c" stroke-width="1"/>
<text x="608.57" y="380.28" text-anchor="end">1</text>
<path d="M611.87 345.35H616.27" stroke="#403a3c" stroke-width="1"/>
<text x="608.57" y="349.70" text-anchor="end">2</text>
<path d="M611.87 314.78H616.27" stroke="#403a3c" stroke-width="1"/>
<text x="608.57" y="319.13" text-anchor="end">3</text>
<text x="661.77" y="438.70" text-anchor="middle">Resveratrol (µM)</text>
<text transform="translate(578.52 360.64) rotate(-90)" text-anchor="middle">Fold change of</text>
<text transform="translate(592.17 360.64) rotate(-90)" text-anchor="middle">SIRT1/β-actin</text>
<rect x="312.41" y="521.67" width="13.2" height="30.57" fill="#ffffff" stroke="#322b2d" stroke-width="1"/>
<path d="M319.36 552.24v4.3" stroke="#403a3c" stroke-width="1"/>
<text x="319.36" y="568.54" text-anchor="middle">0</text>
<path d="M342.01 509.59V503.94M338.91 503.94H345.11" stroke="#4e484a" stroke-width="1" fill="none"/>
<rect x="335.41" y="509.59" width="13.2" height="42.65" fill="#fdd896" stroke="#322b2d" stroke-width="1"/>
<path d="M342.36 552.24v4.3" stroke="#403a3c" stroke-width="1"/>
<text x="342.36" y="568.54" text-anchor="middle">1</text>
<path d="M365.01 503.78V485.74M361.91 485.74H368.11" stroke="#4e484a" stroke-width="1" fill="none"/>
<rect x="358.41" y="503.78" width="13.2" height="48.46" fill="#f5a855" stroke="#322b2d" stroke-width="1"/>
<path d="M365.36 552.24v4.3" stroke="#403a3c" stroke-width="1"/>
<text x="365.36" y="568.54" text-anchor="middle">2.5</text>
<path d="M388.01 489.41V468.64M384.91 468.64H391.11" stroke="#4e484a" stroke-width="1" fill="none"/>
<rect x="381.41" y="489.41" width="13.2" height="62.83" fill="#ee7d0a" stroke="#322b2d" stroke-width="1"/>
<path d="M388.36 552.24v4.3" stroke="#403a3c" stroke-width="1"/>
<text x="388.36" y="568.54" text-anchor="middle">5</text>
<text x="342.01" y="505.14" text-anchor="middle" font-size="10.4" letter-spacing="0">**</text>
<text x="388.01" y="469.74" text-anchor="middle" font-size="10.4" letter-spacing="0">*</text>
<path d="M307.46 460.02V552.24H399.36" stroke="#403a3c" stroke-width="1.05" fill="none"/>
<path d="M303.06 552.24H307.46" stroke="#403a3c" stroke-width="1"/>
<text x="299.76" y="556.59" text-anchor="end">0</text>
<path d="M303.06 521.67H307.46" stroke="#403a3c" stroke-width="1"/>
<text x="299.76" y="526.02" text-anchor="end">1</text>
<path d="M303.06 491.09H307.46" stroke="#403a3c" stroke-width="1"/>
<text x="299.76" y="495.44" text-anchor="end">2</text>
<path d="M303.06 460.52H307.46" stroke="#403a3c" stroke-width="1"/>
<text x="299.76" y="464.87" text-anchor="end">3</text>
<text x="352.96" y="584.44" text-anchor="middle">Resveratrol (µM)</text>
<text transform="translate(271.91 506.38) rotate(-90)" text-anchor="middle">Fold change of</text>
<text transform="translate(285.31 506.38) rotate(-90)" text-anchor="middle">SIRT3/β-actin</text>
<rect x="466.70" y="515.55" width="13.2" height="36.69" fill="#ffffff" stroke="#322b2d" stroke-width="1"/>
<path d="M473.65 552.24v4.3" stroke="#403a3c" stroke-width="1"/>
<text x="473.65" y="568.54" text-anchor="middle">0</text>
<path d="M496.30 509.68V499.14M493.20 499.14H499.40" stroke="#4e484a" stroke-width="1" fill="none"/>
<rect x="489.70" y="509.68" width="13.2" height="42.56" fill="#fdd896" stroke="#322b2d" stroke-width="1"/>
<path d="M496.65 552.24v4.3" stroke="#403a3c" stroke-width="1"/>
<text x="496.65" y="568.54" text-anchor="middle">1</text>
<path d="M519.30 501.98V497.24M516.20 497.24H522.40" stroke="#4e484a" stroke-width="1" fill="none"/>
<rect x="512.70" y="501.98" width="13.2" height="50.26" fill="#f5a855" stroke="#322b2d" stroke-width="1"/>
<path d="M519.65 552.24v4.3" stroke="#403a3c" stroke-width="1"/>
<text x="519.65" y="568.54" text-anchor="middle">2.5</text>
<path d="M542.30 488.59V473.64M539.20 473.64H545.40" stroke="#4e484a" stroke-width="1" fill="none"/>
<rect x="535.70" y="488.59" width="13.2" height="63.65" fill="#ee7d0a" stroke="#322b2d" stroke-width="1"/>
<path d="M542.65 552.24v4.3" stroke="#403a3c" stroke-width="1"/>
<text x="542.65" y="568.54" text-anchor="middle">5</text>
<text x="519.30" y="498.64" text-anchor="middle" font-size="10.4" letter-spacing="0">**</text>
<text x="542.30" y="474.84" text-anchor="middle" font-size="10.4" letter-spacing="0">*</text>
<path d="M461.75 460.02V552.24H553.65" stroke="#403a3c" stroke-width="1.05" fill="none"/>
<path d="M457.35 552.24H461.75" stroke="#403a3c" stroke-width="1"/>
<text x="454.05" y="556.59" text-anchor="end">0</text>
<path d="M457.35 533.90H461.75" stroke="#403a3c" stroke-width="1"/>
<text x="454.05" y="538.25" text-anchor="end">0.5</text>
<path d="M457.35 515.55H461.75" stroke="#403a3c" stroke-width="1"/>
<text x="454.05" y="519.90" text-anchor="end">1.0</text>
<path d="M457.35 497.21H461.75" stroke="#403a3c" stroke-width="1"/>
<text x="454.05" y="501.56" text-anchor="end">1.5</text>
<path d="M457.35 478.86H461.75" stroke="#403a3c" stroke-width="1"/>
<text x="454.05" y="483.21" text-anchor="end">2.0</text>
<path d="M457.35 460.52H461.75" stroke="#403a3c" stroke-width="1"/>
<text x="454.05" y="464.87" text-anchor="end">2.5</text>
<text x="507.25" y="584.44" text-anchor="middle">Resveratrol (µM)</text>
<text transform="translate(419.70 506.38) rotate(-90)" text-anchor="middle">Fold change of</text>
<text transform="translate(433.45 506.38) rotate(-90)" text-anchor="middle">GZMB/β-actin</text>
<rect x="58.41" y="677.01" width="13.2" height="30.57" fill="#dcdedd" stroke="#322b2d" stroke-width="1"/>
<path d="M65.36 707.58v4.3" stroke="#403a3c" stroke-width="1"/>
<text x="65.36" y="723.88" text-anchor="middle">0</text>
<path d="M88.01 664.17V641.58M84.91 641.58H91.11" stroke="#4e484a" stroke-width="1" fill="none"/>
<rect x="81.41" y="664.17" width="13.2" height="43.41" fill="#e6e4f3" stroke="#322b2d" stroke-width="1"/>
<path d="M88.36 707.58v4.3" stroke="#403a3c" stroke-width="1"/>
<text x="88.36" y="723.88" text-anchor="middle">100</text>
<path d="M111.01 672.88V662.18M107.91 662.18H114.11" stroke="#4e484a" stroke-width="1" fill="none"/>
<rect x="104.41" y="672.88" width="13.2" height="34.70" fill="#b9b0d9" stroke="#322b2d" stroke-width="1"/>
<path d="M111.36 707.58v4.3" stroke="#403a3c" stroke-width="1"/>
<text x="111.36" y="723.88" text-anchor="middle">250</text>
<path d="M134.01 647.66V634.08M130.91 634.08H137.11" stroke="#4e484a" stroke-width="1" fill="none"/>
<rect x="127.41" y="647.66" width="13.2" height="59.92" fill="#8c6bb0" stroke="#322b2d" stroke-width="1"/>
<path d="M134.36 707.58v4.3" stroke="#403a3c" stroke-width="1"/>
<text x="134.36" y="723.88" text-anchor="middle">500</text>
<text x="134.01" y="634.88" text-anchor="middle" font-size="10.4" letter-spacing="0">**</text>
<path d="M53.46 615.36V707.58H145.36" stroke="#403a3c" stroke-width="1.05" fill="none"/>
<path d="M49.06 707.58H53.46" stroke="#403a3c" stroke-width="1"/>
<text x="45.76" y="711.93" text-anchor="end">0</text>
<path d="M49.06 677.01H53.46" stroke="#403a3c" stroke-width="1"/>
<text x="45.76" y="681.36" text-anchor="end">1</text>
<path d="M49.06 646.43H53.46" stroke="#403a3c" stroke-width="1"/>
<text x="45.76" y="650.78" text-anchor="end">2</text>
<path d="M49.06 615.86H53.46" stroke="#403a3c" stroke-width="1"/>
<text x="45.76" y="620.21" text-anchor="end">3</text>
<text x="98.96" y="739.78" text-anchor="middle">PSEFS (µg/mL)</text>
<text transform="translate(18.66 661.72) rotate(-90)" text-anchor="middle">Relative mRNA level</text>
<text transform="translate(30.71 661.72) rotate(-90)" text-anchor="middle">(fold of control)</text>
<text x="98.96" y="612.40" text-anchor="middle" font-style="italic">GZMB</text>
<rect x="212.68" y="670.89" width="13.2" height="36.69" fill="#dcdedd" stroke="#322b2d" stroke-width="1"/>
<path d="M219.63 707.58v4.3" stroke="#403a3c" stroke-width="1"/>
<text x="219.63" y="723.88" text-anchor="middle">0</text>
<path d="M242.28 657.13V649.28M239.18 649.28H245.38" stroke="#4e484a" stroke-width="1" fill="none"/>
<rect x="235.68" y="657.13" width="13.2" height="50.45" fill="#e6e4f3" stroke="#322b2d" stroke-width="1"/>
<path d="M242.63 707.58v4.3" stroke="#403a3c" stroke-width="1"/>
<text x="242.63" y="723.88" text-anchor="middle">100</text>
<path d="M265.28 665.21V648.38M262.18 648.38H268.38" stroke="#4e484a" stroke-width="1" fill="none"/>
<rect x="258.68" y="665.21" width="13.2" height="42.37" fill="#b9b0d9" stroke="#322b2d" stroke-width="1"/>
<path d="M265.63 707.58v4.3" stroke="#403a3c" stroke-width="1"/>
<text x="265.63" y="723.88" text-anchor="middle">250</text>
<path d="M288.28 647.60V632.28M285.18 632.28H291.38" stroke="#4e484a" stroke-width="1" fill="none"/>
<rect x="281.68" y="647.60" width="13.2" height="59.98" fill="#8c6bb0" stroke="#322b2d" stroke-width="1"/>
<path d="M288.63 707.58v4.3" stroke="#403a3c" stroke-width="1"/>
<text x="288.63" y="723.88" text-anchor="middle">500</text>
<text x="242.28" y="650.78" text-anchor="middle" font-size="10.4" letter-spacing="0">**</text>
<text x="288.28" y="633.68" text-anchor="middle" font-size="10.4" letter-spacing="0">**</text>
<path d="M207.73 615.36V707.58H299.63" stroke="#403a3c" stroke-width="1.05" fill="none"/>
<path d="M203.33 707.58H207.73" stroke="#403a3c" stroke-width="1"/>
<text x="200.03" y="711.93" text-anchor="end">0</text>
<path d="M203.33 689.24H207.73" stroke="#403a3c" stroke-width="1"/>
<text x="200.03" y="693.59" text-anchor="end">0.5</text>
<path d="M203.33 670.89H207.73" stroke="#403a3c" stroke-width="1"/>
<text x="200.03" y="675.24" text-anchor="end">1.0</text>
<path d="M203.33 652.55H207.73" stroke="#403a3c" stroke-width="1"/>
<text x="200.03" y="656.90" text-anchor="end">1.5</text>
<path d="M203.33 634.20H207.73" stroke="#403a3c" stroke-width="1"/>
<text x="200.03" y="638.55" text-anchor="end">2.0</text>
<path d="M203.33 615.86H207.73" stroke="#403a3c" stroke-width="1"/>
<text x="200.03" y="620.21" text-anchor="end">2.5</text>
<text x="253.23" y="739.78" text-anchor="middle">PSEFS (µg/mL)</text>
<text transform="translate(166.18 661.72) rotate(-90)" text-anchor="middle">Relative mRNA level</text>
<text transform="translate(178.18 661.72) rotate(-90)" text-anchor="middle">(fold of control)</text>
<text x="253.23" y="612.40" text-anchor="middle" font-style="italic">IFNG</text>
<rect x="360.41" y="696.12" width="13.2" height="11.47" fill="#dcdedd" stroke="#322b2d" stroke-width="1"/>
<path d="M367.36 707.58v4.3" stroke="#403a3c" stroke-width="1"/>
<text x="367.36" y="723.88" text-anchor="middle">0</text>
<path d="M390.01 668.60V646.38M386.91 646.38H393.11" stroke="#4e484a" stroke-width="1" fill="none"/>
<rect x="383.41" y="668.60" width="13.2" height="38.98" fill="#e6e4f3" stroke="#322b2d" stroke-width="1"/>
<path d="M390.36 707.58v4.3" stroke="#403a3c" stroke-width="1"/>
<text x="390.36" y="723.88" text-anchor="middle">100</text>
<path d="M413.01 675.71V653.68M409.91 653.68H416.11" stroke="#4e484a" stroke-width="1" fill="none"/>
<rect x="406.41" y="675.71" width="13.2" height="31.87" fill="#b9b0d9" stroke="#322b2d" stroke-width="1"/>
<path d="M413.36 707.58v4.3" stroke="#403a3c" stroke-width="1"/>
<text x="413.36" y="723.88" text-anchor="middle">250</text>
<path d="M436.01 667.22V647.38M432.91 647.38H439.11" stroke="#4e484a" stroke-width="1" fill="none"/>
<rect x="429.41" y="667.22" width="13.2" height="40.36" fill="#8c6bb0" stroke="#322b2d" stroke-width="1"/>
<path d="M436.36 707.58v4.3" stroke="#403a3c" stroke-width="1"/>
<text x="436.36" y="723.88" text-anchor="middle">500</text>
<text x="436.01" y="648.78" text-anchor="middle" font-size="10.4" letter-spacing="0">*</text>
<path d="M355.46 615.36V707.58H447.36" stroke="#403a3c" stroke-width="1.05" fill="none"/>
<path d="M351.06 707.58H355.46" stroke="#403a3c" stroke-width="1"/>
<text x="347.76" y="711.93" text-anchor="end">0</text>
<path d="M351.06 684.65H355.46" stroke="#403a3c" stroke-width="1"/>
<text x="347.76" y="689.00" text-anchor="end">2</text>
<path d="M351.06 661.72H355.46" stroke="#403a3c" stroke-width="1"/>
<text x="347.76" y="666.07" text-anchor="end">4</text>
<path d="M351.06 638.79H355.46" stroke="#403a3c" stroke-width="1"/>
<text x="347.76" y="643.14" text-anchor="end">6</text>
<path d="M351.06 615.86H355.46" stroke="#403a3c" stroke-width="1"/>
<text x="347.76" y="620.21" text-anchor="end">8</text>
<text x="400.96" y="739.78" text-anchor="middle">PSEFS (µg/mL)</text>
<text transform="translate(320.66 661.72) rotate(-90)" text-anchor="middle">Relative mRNA level</text>
<text transform="translate(332.71 661.72) rotate(-90)" text-anchor="middle">(fold of control)</text>
<text x="400.96" y="612.40" text-anchor="middle" font-style="italic">PRF1</text>
<rect x="508.33" y="677.01" width="13.2" height="30.57" fill="#dcdedd" stroke="#322b2d" stroke-width="1"/>
<path d="M515.28 707.58v4.3" stroke="#403a3c" stroke-width="1"/>
<text x="515.28" y="723.88" text-anchor="middle">0</text>
<path d="M537.93 660.34V639.58M534.83 639.58H541.03" stroke="#4e484a" stroke-width="1" fill="none"/>
<rect x="531.33" y="660.34" width="13.2" height="47.24" fill="#e6e4f3" stroke="#322b2d" stroke-width="1"/>
<path d="M538.28 707.58v4.3" stroke="#403a3c" stroke-width="1"/>
<text x="538.28" y="723.88" text-anchor="middle">100</text>
<path d="M560.93 654.69V645.18M557.83 645.18H564.03" stroke="#4e484a" stroke-width="1" fill="none"/>
<rect x="554.33" y="654.69" width="13.2" height="52.89" fill="#b9b0d9" stroke="#322b2d" stroke-width="1"/>
<path d="M561.28 707.58v4.3" stroke="#403a3c" stroke-width="1"/>
<text x="561.28" y="723.88" text-anchor="middle">250</text>
<path d="M583.93 653.31V650.28M580.83 650.28H587.03" stroke="#4e484a" stroke-width="1" fill="none"/>
<rect x="577.33" y="653.31" width="13.2" height="54.27" fill="#8c6bb0" stroke="#322b2d" stroke-width="1"/>
<path d="M584.28 707.58v4.3" stroke="#403a3c" stroke-width="1"/>
<text x="584.28" y="723.88" text-anchor="middle">500</text>
<text x="560.93" y="646.38" text-anchor="middle" font-size="10.4" letter-spacing="0">*</text>
<text x="583.93" y="651.58" text-anchor="middle" font-size="10.4" letter-spacing="0">***</text>
<path d="M503.38 615.36V707.58H595.28" stroke="#403a3c" stroke-width="1.05" fill="none"/>
<path d="M498.98 707.58H503.38" stroke="#403a3c" stroke-width="1"/>
<text x="495.68" y="711.93" text-anchor="end">0</text>
<path d="M498.98 677.01H503.38" stroke="#403a3c" stroke-width="1"/>
<text x="495.68" y="681.36" text-anchor="end">1</text>
<path d="M498.98 646.43H503.38" stroke="#403a3c" stroke-width="1"/>
<text x="495.68" y="650.78" text-anchor="end">2</text>
<path d="M498.98 615.86H503.38" stroke="#403a3c" stroke-width="1"/>
<text x="495.68" y="620.21" text-anchor="end">3</text>
<text x="548.88" y="739.78" text-anchor="middle">PSEFS (µg/mL)</text>
<text transform="translate(468.58 661.72) rotate(-90)" text-anchor="middle">Relative mRNA level</text>
<text transform="translate(480.63 661.72) rotate(-90)" text-anchor="middle">(fold of control)</text>
<text x="548.88" y="612.40" text-anchor="middle" font-style="italic">DNAM1</text>
<rect x="655.90" y="677.01" width="13.2" height="30.57" fill="#dcdedd" stroke="#322b2d" stroke-width="1"/>
<path d="M662.85 707.58v4.3" stroke="#403a3c" stroke-width="1"/>
<text x="662.85" y="723.88" text-anchor="middle">0</text>
<path d="M685.50 669.21V660.18M682.40 660.18H688.60" stroke="#4e484a" stroke-width="1" fill="none"/>
<rect x="678.90" y="669.21" width="13.2" height="38.37" fill="#e6e4f3" stroke="#322b2d" stroke-width="1"/>
<path d="M685.85 707.58v4.3" stroke="#403a3c" stroke-width="1"/>
<text x="685.85" y="723.88" text-anchor="middle">100</text>
<path d="M708.50 667.99V650.28M705.40 650.28H711.60" stroke="#4e484a" stroke-width="1" fill="none"/>
<rect x="701.90" y="667.99" width="13.2" height="39.59" fill="#b9b0d9" stroke="#322b2d" stroke-width="1"/>
<path d="M708.85 707.58v4.3" stroke="#403a3c" stroke-width="1"/>
<text x="708.85" y="723.88" text-anchor="middle">250</text>
<path d="M731.50 642.15V630.48M728.40 630.48H734.60" stroke="#4e484a" stroke-width="1" fill="none"/>
<rect x="724.90" y="642.15" width="13.2" height="65.43" fill="#8c6bb0" stroke="#322b2d" stroke-width="1"/>
<path d="M731.85 707.58v4.3" stroke="#403a3c" stroke-width="1"/>
<text x="731.85" y="723.88" text-anchor="middle">500</text>
<text x="731.50" y="631.78" text-anchor="middle" font-size="10.4" letter-spacing="0">***</text>
<path d="M650.95 615.36V707.58H742.85" stroke="#403a3c" stroke-width="1.05" fill="none"/>
<path d="M646.55 707.58H650.95" stroke="#403a3c" stroke-width="1"/>
<text x="643.25" y="711.93" text-anchor="end">0</text>
<path d="M646.55 677.01H650.95" stroke="#403a3c" stroke-width="1"/>
<text x="643.25" y="681.36" text-anchor="end">1</text>
<path d="M646.55 646.43H650.95" stroke="#403a3c" stroke-width="1"/>
<text x="643.25" y="650.78" text-anchor="end">2</text>
<path d="M646.55 615.86H650.95" stroke="#403a3c" stroke-width="1"/>
<text x="643.25" y="620.21" text-anchor="end">3</text>
<text x="696.45" y="739.78" text-anchor="middle">PSEFS (µg/mL)</text>
<text transform="translate(616.15 661.72) rotate(-90)" text-anchor="middle">Relative mRNA level</text>
<text transform="translate(628.20 661.72) rotate(-90)" text-anchor="middle">(fold of control)</text>
<text x="696.45" y="612.40" text-anchor="middle" font-style="italic">NKG2D</text>
<rect x="58.41" y="816.38" width="13.2" height="45.86" fill="#dcdedd" stroke="#322b2d" stroke-width="1"/>
<path d="M65.36 862.24v4.3" stroke="#403a3c" stroke-width="1"/>
<text x="65.36" y="878.54" text-anchor="middle">0</text>
<path d="M88.01 822.53V816.59M84.91 816.59H91.11" stroke="#4e484a" stroke-width="1" fill="none"/>
<rect x="81.41" y="822.53" width="13.2" height="39.71" fill="#e6e4f3" stroke="#322b2d" stroke-width="1"/>
<path d="M88.36 862.24v4.3" stroke="#403a3c" stroke-width="1"/>
<text x="88.36" y="878.54" text-anchor="middle">100</text>
<path d="M111.01 830.41V822.49M107.91 822.49H114.11" stroke="#4e484a" stroke-width="1" fill="none"/>
<rect x="104.41" y="830.41" width="13.2" height="31.83" fill="#b9b0d9" stroke="#322b2d" stroke-width="1"/>
<path d="M111.36 862.24v4.3" stroke="#403a3c" stroke-width="1"/>
<text x="111.36" y="878.54" text-anchor="middle">250</text>
<path d="M134.01 802.62V792.99M130.91 792.99H137.11" stroke="#4e484a" stroke-width="1" fill="none"/>
<rect x="127.41" y="802.62" width="13.2" height="59.62" fill="#8c6bb0" stroke="#322b2d" stroke-width="1"/>
<path d="M134.36 862.24v4.3" stroke="#403a3c" stroke-width="1"/>
<text x="134.36" y="878.54" text-anchor="middle">500</text>
<text x="134.01" y="793.99" text-anchor="middle" font-size="10.4" letter-spacing="0">*</text>
<path d="M53.46 770.02V862.24H145.36" stroke="#403a3c" stroke-width="1.05" fill="none"/>
<path d="M49.06 862.24H53.46" stroke="#403a3c" stroke-width="1"/>
<text x="45.76" y="866.59" text-anchor="end">0</text>
<path d="M49.06 839.31H53.46" stroke="#403a3c" stroke-width="1"/>
<text x="45.76" y="843.66" text-anchor="end">0.5</text>
<path d="M49.06 816.38H53.46" stroke="#403a3c" stroke-width="1"/>
<text x="45.76" y="820.73" text-anchor="end">1.0</text>
<path d="M49.06 793.45H53.46" stroke="#403a3c" stroke-width="1"/>
<text x="45.76" y="797.80" text-anchor="end">1.5</text>
<path d="M49.06 770.52H53.46" stroke="#403a3c" stroke-width="1"/>
<text x="45.76" y="774.87" text-anchor="end">2.0</text>
<text x="98.96" y="894.44" text-anchor="middle">PSEFS (µg/mL)</text>
<text transform="translate(11.91 816.38) rotate(-90)" text-anchor="middle">Relative mRNA level</text>
<text transform="translate(23.91 816.38) rotate(-90)" text-anchor="middle">(fold of control)</text>
<text x="98.96" y="767.30" text-anchor="middle" font-style="italic">NKp44</text>
<rect x="212.68" y="816.38" width="13.2" height="45.86" fill="#dcdedd" stroke="#322b2d" stroke-width="1"/>
<path d="M219.63 862.24v4.3" stroke="#403a3c" stroke-width="1"/>
<text x="219.63" y="878.54" text-anchor="middle">0</text>
<path d="M242.28 825.32V814.59M239.18 814.59H245.38" stroke="#4e484a" stroke-width="1" fill="none"/>
<rect x="235.68" y="825.32" width="13.2" height="36.92" fill="#e6e4f3" stroke="#322b2d" stroke-width="1"/>
<path d="M242.63 862.24v4.3" stroke="#403a3c" stroke-width="1"/>
<text x="242.63" y="878.54" text-anchor="middle">100</text>
<path d="M265.28 802.62V795.79M262.18 795.79H268.38" stroke="#4e484a" stroke-width="1" fill="none"/>
<rect x="258.68" y="802.62" width="13.2" height="59.62" fill="#b9b0d9" stroke="#322b2d" stroke-width="1"/>
<path d="M265.63 862.24v4.3" stroke="#403a3c" stroke-width="1"/>
<text x="265.63" y="878.54" text-anchor="middle">250</text>
<path d="M288.28 809.27V784.89M285.18 784.89H291.38" stroke="#4e484a" stroke-width="1" fill="none"/>
<rect x="281.68" y="809.27" width="13.2" height="52.97" fill="#8c6bb0" stroke="#322b2d" stroke-width="1"/>
<path d="M288.63 862.24v4.3" stroke="#403a3c" stroke-width="1"/>
<text x="288.63" y="878.54" text-anchor="middle">500</text>
<text x="265.28" y="796.79" text-anchor="middle" font-size="10.4" letter-spacing="0">*</text>
<path d="M207.73 770.02V862.24H299.63" stroke="#403a3c" stroke-width="1.05" fill="none"/>
<path d="M203.33 862.24H207.73" stroke="#403a3c" stroke-width="1"/>
<text x="200.03" y="866.59" text-anchor="end">0</text>
<path d="M203.33 816.38H207.73" stroke="#403a3c" stroke-width="1"/>
<text x="200.03" y="820.73" text-anchor="end">1</text>
<path d="M203.33 770.52H207.73" stroke="#403a3c" stroke-width="1"/>
<text x="200.03" y="774.87" text-anchor="end">2</text>
<text x="253.23" y="894.44" text-anchor="middle">PSEFS (µg/mL)</text>
<text transform="translate(172.93 816.38) rotate(-90)" text-anchor="middle">Relative mRNA level</text>
<text transform="translate(184.98 816.38) rotate(-90)" text-anchor="middle">(fold of control)</text>
<text x="253.23" y="767.30" text-anchor="middle" font-style="italic">ERK</text>
<rect x="360.41" y="831.67" width="13.2" height="30.57" fill="#dcdedd" stroke="#322b2d" stroke-width="1"/>
<path d="M367.36 862.24v4.3" stroke="#403a3c" stroke-width="1"/>
<text x="367.36" y="878.54" text-anchor="middle">0</text>
<path d="M390.01 825.55V810.39M386.91 810.39H393.11" stroke="#4e484a" stroke-width="1" fill="none"/>
<rect x="383.41" y="825.55" width="13.2" height="36.69" fill="#e6e4f3" stroke="#322b2d" stroke-width="1"/>
<path d="M390.36 862.24v4.3" stroke="#403a3c" stroke-width="1"/>
<text x="390.36" y="878.54" text-anchor="middle">100</text>
<path d="M413.01 828.30V809.59M409.91 809.59H416.11" stroke="#4e484a" stroke-width="1" fill="none"/>
<rect x="406.41" y="828.30" width="13.2" height="33.94" fill="#b9b0d9" stroke="#322b2d" stroke-width="1"/>
<path d="M413.36 862.24v4.3" stroke="#403a3c" stroke-width="1"/>
<text x="413.36" y="878.54" text-anchor="middle">250</text>
<path d="M436.01 799.35V788.59M432.91 788.59H439.11" stroke="#4e484a" stroke-width="1" fill="none"/>
<rect x="429.41" y="799.35" width="13.2" height="62.89" fill="#8c6bb0" stroke="#322b2d" stroke-width="1"/>
<path d="M436.36 862.24v4.3" stroke="#403a3c" stroke-width="1"/>
<text x="436.36" y="878.54" text-anchor="middle">500</text>
<text x="436.01" y="789.69" text-anchor="middle" font-size="10.4" letter-spacing="0">*</text>
<path d="M355.46 770.02V862.24H447.36" stroke="#403a3c" stroke-width="1.05" fill="none"/>
<path d="M351.06 862.24H355.46" stroke="#403a3c" stroke-width="1"/>
<text x="347.76" y="866.59" text-anchor="end">0</text>
<path d="M351.06 831.67H355.46" stroke="#403a3c" stroke-width="1"/>
<text x="347.76" y="836.02" text-anchor="end">1</text>
<path d="M351.06 801.09H355.46" stroke="#403a3c" stroke-width="1"/>
<text x="347.76" y="805.44" text-anchor="end">2</text>
<path d="M351.06 770.52H355.46" stroke="#403a3c" stroke-width="1"/>
<text x="347.76" y="774.87" text-anchor="end">3</text>
<text x="400.96" y="894.44" text-anchor="middle">PSEFS (µg/mL)</text>
<text transform="translate(320.66 816.38) rotate(-90)" text-anchor="middle">Relative mRNA level</text>
<text transform="translate(332.71 816.38) rotate(-90)" text-anchor="middle">(fold of control)</text>
<text x="400.96" y="767.30" text-anchor="middle" font-style="italic">SIRT1</text>
<rect x="508.33" y="831.67" width="13.2" height="30.57" fill="#dcdedd" stroke="#322b2d" stroke-width="1"/>
<path d="M515.28 862.24v4.3" stroke="#403a3c" stroke-width="1"/>
<text x="515.28" y="878.54" text-anchor="middle">0</text>
<path d="M537.93 821.58V801.29M534.83 801.29H541.03" stroke="#4e484a" stroke-width="1" fill="none"/>
<rect x="531.33" y="821.58" width="13.2" height="40.66" fill="#e6e4f3" stroke="#322b2d" stroke-width="1"/>
<path d="M538.28 862.24v4.3" stroke="#403a3c" stroke-width="1"/>
<text x="538.28" y="878.54" text-anchor="middle">100</text>
<path d="M560.93 844.29V836.99M557.83 836.99H564.03" stroke="#4e484a" stroke-width="1" fill="none"/>
<rect x="554.33" y="844.29" width="13.2" height="17.95" fill="#b9b0d9" stroke="#322b2d" stroke-width="1"/>
<path d="M561.28 862.24v4.3" stroke="#403a3c" stroke-width="1"/>
<text x="561.28" y="878.54" text-anchor="middle">250</text>
<path d="M583.93 837.48V823.69M580.83 823.69H587.03" stroke="#4e484a" stroke-width="1" fill="none"/>
<rect x="577.33" y="837.48" width="13.2" height="24.76" fill="#8c6bb0" stroke="#322b2d" stroke-width="1"/>
<path d="M584.28 862.24v4.3" stroke="#403a3c" stroke-width="1"/>
<text x="584.28" y="878.54" text-anchor="middle">500</text>
<text x="560.93" y="837.99" text-anchor="middle" font-size="10.4" letter-spacing="0">*</text>
<path d="M503.38 770.02V862.24H595.28" stroke="#403a3c" stroke-width="1.05" fill="none"/>
<path d="M498.98 862.24H503.38" stroke="#403a3c" stroke-width="1"/>
<text x="495.68" y="866.59" text-anchor="end">0</text>
<path d="M498.98 831.67H503.38" stroke="#403a3c" stroke-width="1"/>
<text x="495.68" y="836.02" text-anchor="end">1</text>
<path d="M498.98 801.09H503.38" stroke="#403a3c" stroke-width="1"/>
<text x="495.68" y="805.44" text-anchor="end">2</text>
<path d="M498.98 770.52H503.38" stroke="#403a3c" stroke-width="1"/>
<text x="495.68" y="774.87" text-anchor="end">3</text>
<text x="548.88" y="894.44" text-anchor="middle">PSEFS (µg/mL)</text>
<text transform="translate(468.58 816.38) rotate(-90)" text-anchor="middle">Relative mRNA level</text>
<text transform="translate(480.63 816.38) rotate(-90)" text-anchor="middle">(fold of control)</text>
<text x="548.88" y="767.30" text-anchor="middle" font-style="italic">CTLA4</text>
</svg>
</body></html>
